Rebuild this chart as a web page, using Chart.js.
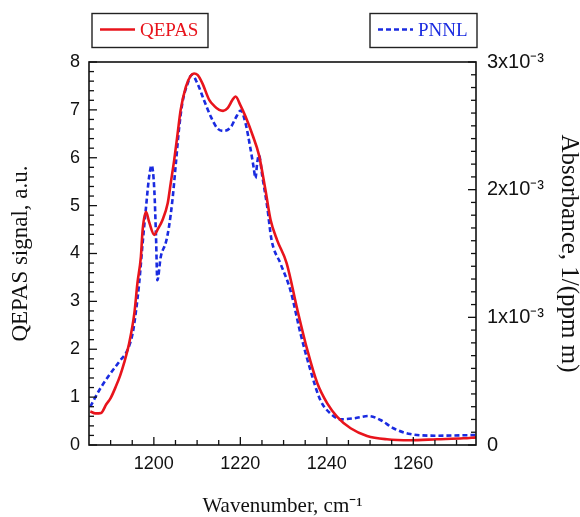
<!DOCTYPE html>
<html><head><meta charset="utf-8">
<script src="https://cdn.jsdelivr.net/npm/chart.js@4"></script>
<style>html,body{margin:0;padding:0;background:#fff}#wrap{width:580px;height:517px}</style>
</head><body><div id="wrap"><canvas id="c" width="580" height="517"></canvas></div>
<script>
// ---- data ----
const qepasWavenumber = [1185.3,1186.5,1187.8,1189,1190,1191.2,1192.2,1193.1,1194.3,1195.5,1196.2,1197,1197.4,1198.2,1198.9,1200.1,1200.8,1202,1203.2,1203.9,1204.7,1205.5,1206.2,1207.4,1208.5,1209.3,1210.1,1211.2,1212.8,1214,1215.1,1216,1217,1218.2,1218.9,1220,1221.2,1222.8,1224.3,1225.8,1227,1228.5,1230.7,1233.2,1235.5,1237.8,1240.1,1242.4,1245.5,1249.3,1253.9,1259.3,1265.5,1271.6,1274.5];
const qepasSignal = [0.70,0.66,0.67,0.85,0.98,1.22,1.45,1.71,2.13,2.76,3.38,3.93,4.49,4.87,4.66,4.39,4.49,4.70,5.05,5.47,5.95,6.51,7.0,7.48,7.71,7.76,7.73,7.56,7.21,7.08,7.0,6.98,7.03,7.21,7.28,7.10,6.86,6.48,6.06,5.33,4.70,4.28,3.80,2.82,1.98,1.29,0.87,0.59,0.35,0.19,0.12,0.10,0.12,0.14,0.16];
const pnnlWavenumber = [1185.3,1187.4,1189.7,1192,1193.9,1195.1,1195.8,1196.6,1197.4,1198.2,1198.9,1199.5,1200.1,1200.5,1200.8,1201.6,1202.8,1203.5,1204.3,1205.1,1205.8,1206.6,1207.8,1208.8,1210.1,1211.6,1213.2,1214.7,1216.2,1217.8,1218.9,1220.1,1221.2,1222.4,1223.1,1223.5,1223.9,1224.3,1225.1,1226.2,1227.2,1229.3,1231.6,1233.9,1236.2,1238.5,1240.8,1243.2,1246.2,1249.7,1252.4,1255.4,1259.3,1265.5,1274.5];
const pnnlAbsorbance = [0.30e-3,0.431e-3,0.548e-3,0.653e-3,0.744e-3,0.875e-3,1.032e-3,1.266e-3,1.58e-3,1.867e-3,2.10e-3,2.19e-3,2.0e-3,1.63e-3,1.29e-3,1.475e-3,1.59e-3,1.71e-3,1.92e-3,2.21e-3,2.47e-3,2.68e-3,2.83e-3,2.90e-3,2.83e-3,2.70e-3,2.57e-3,2.48e-3,2.46e-3,2.49e-3,2.56e-3,2.62e-3,2.52e-3,2.31e-3,2.17e-3,2.09e-3,2.21e-3,2.27e-3,2.10e-3,1.87e-3,1.61e-3,1.42e-3,1.21e-3,0.875e-3,0.587e-3,0.352e-3,0.248e-3,0.201e-3,0.209e-3,0.227e-3,0.196e-3,0.131e-3,0.086e-3,0.073e-3,0.078e-3];
const xTickValues = [1200,1220,1240,1260];
const xTickLabels = ['1200','1220','1240','1260'];
const leftTickValues = [0,1,2,3,4,5,6,7,8];
const rightTickValues = [0,1e-3,2e-3,3e-3];
const rightTickLabels = ['0','1x10\u207B\u00B3','2x10\u207B\u00B3','3x10\u207B\u00B3'];
const seriesLabels = ['QEPAS','PNNL'];
const seriesColors = ['#e8141c','#1a2be0'];

const serif = '"Liberation Serif", "Times New Roman", serif';
const sans = '"Liberation Sans", Arial, sans-serif';

const frameTicks = {
  id: 'frameTicks',
  afterDatasetsDraw(chart) {
    const {ctx, chartArea: a, scales} = chart;
    ctx.save();
    ctx.strokeStyle = '#111';
    ctx.lineWidth = 1.6;
    ctx.strokeRect(a.left, a.top, a.right - a.left, a.bottom - a.top);
    ctx.lineWidth = 1.3;
    const seg = (x1, y1, x2, y2) => { ctx.beginPath(); ctx.moveTo(x1, y1); ctx.lineTo(x2, y2); ctx.stroke(); };
    const xs = scales.x, ys = scales.y, y2 = scales.y2;
    for (let i = 0; i <= 16; i++) {
      const v = 1190 + 5 * i;
      const p = xs.getPixelForValue(v);
      seg(p, a.bottom, p, a.bottom - (v % 20 === 0 ? 8 : 5));
    }
    for (let i = 0; i <= 40; i++) {
      const p = ys.getPixelForValue(i * 0.2);
      seg(a.left, p, a.left + (i % 5 === 0 ? 8 : 5), p);
    }
    for (let i = 0; i <= 30; i++) {
      const p = y2.getPixelForValue(i * 1e-4);
      seg(a.right, p, a.right - (i % 10 === 0 ? 8 : 5), p);
    }
    ctx.restore();
  }
};

const boxLegend = {
  id: 'boxLegend',
  afterDraw(chart) {
    const ctx = chart.ctx;
    const ds = chart.data.datasets;
    const boxes = [{x: 92, w: 116}, {x: 370, w: 107}];
    ctx.save();
    ds.forEach((d, i) => {
      const b = boxes[i];
      ctx.strokeStyle = '#222';
      ctx.lineWidth = 1.4;
      ctx.strokeRect(b.x, 13.5, b.w, 34);
      ctx.strokeStyle = d.borderColor;
      ctx.lineWidth = d.borderWidth;
      ctx.setLineDash(d.borderDash || []);
      ctx.beginPath(); ctx.moveTo(b.x + 8, 29.5); ctx.lineTo(b.x + 43, 29.5); ctx.stroke();
      ctx.setLineDash([]);
      ctx.fillStyle = d.borderColor;
      ctx.font = '19px ' + serif;
      ctx.textBaseline = 'middle';
      ctx.fillText(d.label, b.x + 48, 31);
    });
    ctx.restore();
  }
};

new Chart(document.getElementById('c'), {
  type: 'line',
  data: {
    datasets: [
      {
        label: seriesLabels[0],
        data: qepasWavenumber.map((w, i) => ({x: w, y: qepasSignal[i]})),
        yAxisID: 'y',
        borderColor: seriesColors[0], borderWidth: 2.6, pointRadius: 0,
        cubicInterpolationMode: 'monotone', fill: false
      },
      {
        label: seriesLabels[1],
        data: pnnlWavenumber.map((w, i) => ({x: w, y: pnnlAbsorbance[i]})),
        yAxisID: 'y2',
        borderColor: seriesColors[1], borderWidth: 2.6, borderDash: [5, 3], pointRadius: 0,
        cubicInterpolationMode: 'monotone', fill: false
      }
    ]
  },
  options: {
    responsive: false, animation: false,
    layout: {padding: {top: 62, left: 0, right: 0, bottom: 0}},
    plugins: {legend: {display: false}, tooltip: {enabled: false}},
    scales: {
      x: {
        type: 'linear', min: 1185, max: 1274.5,
        afterBuildTicks: s => { s.ticks = xTickValues.map(v => ({value: v})); },
        afterFit: s => { s.height = 72; },
        grid: {display: false, drawTicks: false},
        border: {display: false},
        ticks: {padding: 8, color: '#111', font: {family: sans, size: 18}, maxRotation: 0,
          callback: v => xTickLabels[xTickValues.indexOf(v)]},
        title: {display: true, text: 'Wavenumber, cm\u207B\u00B9', color: '#111', font: {family: serif, size: 21, lineHeight: 1}, padding: {top: 0, bottom: 0}}
      },
      y: {
        position: 'left', min: 0, max: 8,
        afterBuildTicks: s => { s.ticks = leftTickValues.map(v => ({value: v})); },
        afterFit: s => { s.width = 89; },
        grid: {display: false, drawTicks: false},
        border: {display: false},
        ticks: {padding: 9, color: '#111', font: {family: sans, size: 18}},
        title: {display: true, text: 'QEPAS signal, a.u.', color: '#111', font: {family: serif, size: 23, lineHeight: 1}, padding: {top: 9, bottom: 0}}
      },
      y2: {
        position: 'right', min: 0, max: 3e-3,
        afterBuildTicks: s => { s.ticks = rightTickValues.map(v => ({value: v})); },
        afterFit: s => { s.width = 104; },
        grid: {display: false, drawTicks: false},
        border: {display: false},
        ticks: {padding: 11, color: '#111', font: {family: sans, size: 20},
          callback: (v) => rightTickLabels[rightTickValues.findIndex(t => Math.abs(t - v) < 1e-9)]},
        title: {display: true, text: 'Absorbance, 1/(ppm m)', color: '#111', font: {family: serif, size: 25, lineHeight: 1}, padding: {top: -1, bottom: 0}}
      }
    }
  },
  plugins: [frameTicks, boxLegend]
});
</script>
</body></html>
